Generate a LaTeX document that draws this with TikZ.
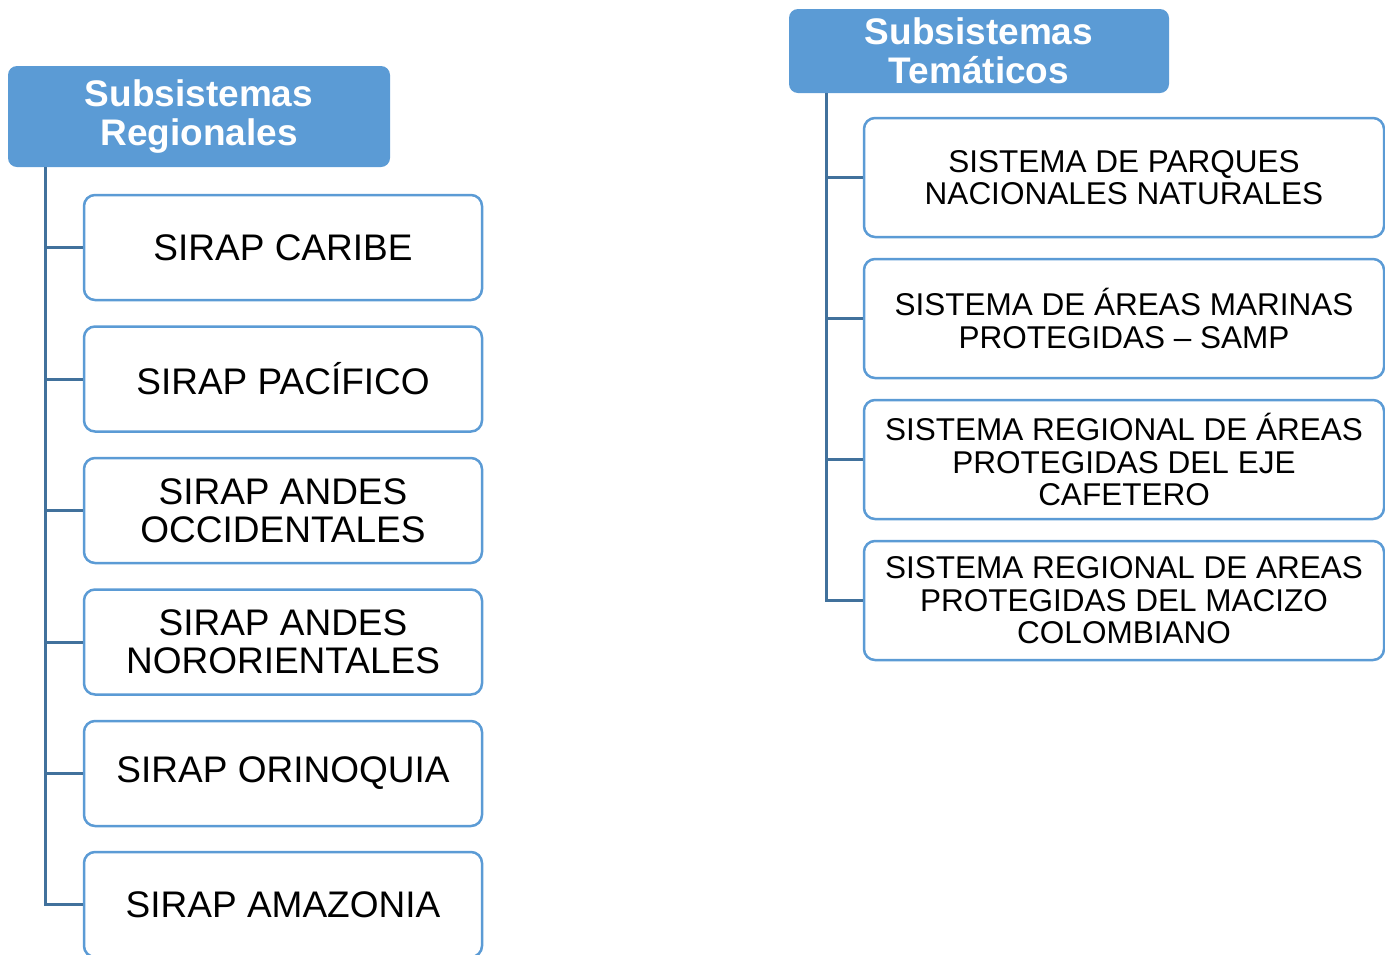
\documentclass[tikz,border=0pt]{standalone}
\usepackage{fontspec}
\setmainfont{Liberation Sans}
\usepackage{tikz}
\usetikzlibrary{positioning}

\definecolor{cabeza}{HTML}{5B9BD5}
\definecolor{borde}{HTML}{5B9BD5}
\definecolor{linea}{HTML}{41719C}

\begin{document}
\begin{tikzpicture}[x=1pt,y=-1pt,
		cabeza/.style={fill=cabeza,rounded corners=9pt,inner sep=0pt,align=center,text=white,
			font=\fontsize{37}{38.5}\selectfont\bfseries},
		sirap/.style={draw=borde,line width=2.5pt,fill=white,rounded corners=11pt,inner sep=0pt,align=center,
			minimum width=398pt,minimum height=105pt,font=\fontsize{37}{38}\selectfont},
		sistema/.style={draw=borde,line width=2.5pt,fill=white,rounded corners=11pt,inner sep=0pt,align=center,
			minimum width=520pt,minimum height=119pt,font=\fontsize{31.5}{32.5}\selectfont},
		rama/.style={draw=linea,line width=3pt}]
		\clip (0,0) rectangle (1385,954);
		\useasboundingbox (0,0) rectangle (1385,954);

		% subsistemas regionales
		\node[cabeza,minimum width=382pt,minimum height=101pt] (regional) at (199,116.5) {Subsistemas\\Regionales};
		\coordinate (rtop) at (45,167);

		\node[sirap] (caribe) at (283,247.5) {SIRAP CARIBE};
		\node[sirap] (pacifico) at (283,379) {SIRAP PACÍFICO};
		\node[sirap] (occidentales) at (283,510.5) {SIRAP ANDES\\OCCIDENTALES};
		\node[sirap] (nororientales) at (283,642) {SIRAP ANDES\\NORORIENTALES};
		\node[sirap] (orinoquia) at (283,773.5) {SIRAP ORINOQUIA};
		\node[sirap] (amazonia) at (283,904.5) {SIRAP AMAZONIA};

		\draw[rama] (rtop) |- (amazonia.west);
		\draw[rama] (rtop |- caribe.west) -- (caribe.west);
		\draw[rama] (rtop |- pacifico.west) -- (pacifico.west);
		\draw[rama] (rtop |- occidentales.west) -- (occidentales.west);
		\draw[rama] (rtop |- nororientales.west) -- (nororientales.west);
		\draw[rama] (rtop |- orinoquia.west) -- (orinoquia.west);

		% subsistemas tematicos
		\node[cabeza,minimum width=380pt,minimum height=84pt] (tematico) at (979,51) {Subsistemas\\Temáticos};
		\coordinate (ttop) at (826,93);

		\node[sistema] (parques) at (1124,177.5) {SISTEMA DE PARQUES\\NACIONALES NATURALES};
		\node[sistema] (marinas) at (1124,318.5) {SISTEMA DE ÁREAS MARINAS\\PROTEGIDAS – SAMP};
		\node[sistema] (cafetero) at (1124,459.5) {SISTEMA REGIONAL DE ÁREAS\\PROTEGIDAS DEL EJE\\CAFETERO};
		\node[sistema] (macizo) at (1124,600.5) {SISTEMA REGIONAL DE AREAS\\PROTEGIDAS DEL MACIZO\\COLOMBIANO};

		\draw[rama] (ttop) |- (macizo.west);
		\draw[rama] (ttop |- parques.west) -- (parques.west);
		\draw[rama] (ttop |- marinas.west) -- (marinas.west);
		\draw[rama] (ttop |- cafetero.west) -- (cafetero.west);
	\end{tikzpicture}
\end{document}
